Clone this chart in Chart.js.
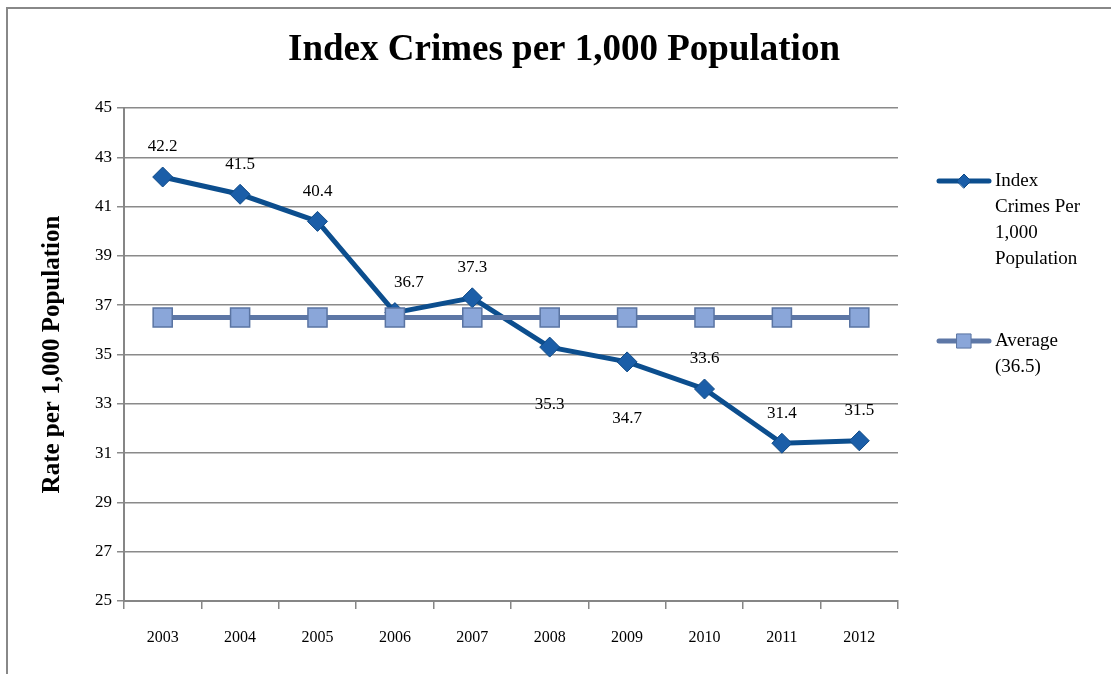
<!DOCTYPE html>
<html>
<head>
<meta charset="utf-8">
<script src="https://cdn.jsdelivr.net/npm/chart.js@4.4.1/dist/chart.umd.min.js"></script>
<style>
  html, body { margin: 0; padding: 0; background: #fff; overflow: hidden; }
  #wrap { position: relative; width: 1111px; height: 674px; }
  #frame { position: absolute; left: 6px; top: 7px; width: 1200px; height: 800px;
           border-top: 2px solid #888; border-left: 2px solid #888; }
  canvas { position: absolute; left: 0; top: 0; }
</style>
</head>
<body>
<div id="wrap">
  <div id="frame"></div>
  <canvas id="crimeChart" width="1111" height="674"></canvas>
</div>
<script>
// data
const years = ['2003', '2004', '2005', '2006', '2007', '2008', '2009', '2010', '2011', '2012'];
const crimeRates = [42.2, 41.5, 40.4, 36.7, 37.3, 35.3, 34.7, 33.6, 31.4, 31.5];
const averageRate = [36.5, 36.5, 36.5, 36.5, 36.5, 36.5, 36.5, 36.5, 36.5, 36.5];
const labelSide = ['above', 'above', 'above', 'aboveRight', 'above', 'below', 'below', 'above', 'above', 'above'];
const chartTitle = 'Index Crimes per 1,000 Population';
const legendLines = [
  ['Index', 'Crimes Per', '1,000', 'Population'],
  ['Average', '(36.5)']
];

const SERIF = '"Liberation Serif", "DejaVu Serif", serif';

// title centred over the whole picture, not the plot
const bigTitle = {
  id: 'bigTitle',
  afterDraw(chart) {
    const ctx = chart.ctx;
    ctx.save();
    ctx.font = 'bold 37px ' + SERIF;
    ctx.fillStyle = '#000';
    ctx.textAlign = 'center';
    ctx.textBaseline = 'middle';
    ctx.fillText(chartTitle, 564, 50);
    ctx.restore();
  }
};

// value labels over the crime series
const valueLabels = {
  id: 'valueLabels',
  afterDatasetsDraw(chart) {
    const ctx = chart.ctx;
    const meta = chart.getDatasetMeta(0);
    ctx.save();
    ctx.font = '17px ' + SERIF;
    ctx.fillStyle = '#000';
    ctx.textAlign = 'center';
    ctx.textBaseline = 'middle';
    meta.data.forEach((pt, i) => {
      let x = pt.x, y = pt.y - 30;
      if (labelSide[i] === 'below') y = pt.y + 57;
      if (labelSide[i] === 'aboveRight') x = pt.x + 14;
      ctx.fillText(crimeRates[i].toFixed(1), x, y);
    });
    ctx.restore();
  }
};

// legend on the right with wrapped text
const sideLegend = {
  id: 'sideLegend',
  afterDraw(chart) {
    const ctx = chart.ctx;
    const tops = [181, 341];
    ctx.save();
    chart.data.datasets.forEach((ds, i) => {
      const y = tops[i];
      ctx.strokeStyle = ds.borderColor;
      ctx.lineWidth = ds.borderWidth;
      ctx.lineCap = 'round';
      ctx.beginPath();
      ctx.moveTo(939, y);
      ctx.lineTo(989, y);
      ctx.stroke();
      ctx.fillStyle = ds.pointBackgroundColor;
      ctx.strokeStyle = ds.pointBorderColor;
      ctx.lineWidth = 1;
      Chart.helpers.drawPoint(ctx, {
        pointStyle: ds.pointStyle,
        radius: i === 0 ? 7 : 10,
        borderWidth: 1
      }, 964, y);
      ctx.fillStyle = '#000';
      ctx.font = '19px ' + SERIF;
      ctx.textAlign = 'left';
      ctx.textBaseline = 'middle';
      legendLines[i].forEach((t, k) => ctx.fillText(t, 995, y + k * 26));
    });
    ctx.restore();
  }
};

new Chart(document.getElementById('crimeChart'), {
  type: 'line',
  data: {
    labels: years,
    datasets: [
      {
        label: 'Index Crimes Per 1,000 Population',
        data: crimeRates,
        borderColor: '#0c4e8e',
        borderWidth: 5,
        pointStyle: 'rectRot',
        pointRadius: 10,
        pointBackgroundColor: '#1b5ea8',
        pointBorderColor: '#0f4a86',
        pointBorderWidth: 1,
        order: 2
      },
      {
        label: 'Average (36.5)',
        data: averageRate,
        borderColor: '#5d77a6',
        borderWidth: 5,
        pointStyle: 'rect',
        pointRadius: 13.5,
        pointBackgroundColor: '#8aa6d9',
        pointBorderColor: '#5a74a2',
        pointBorderWidth: 1.5,
        order: 1
      }
    ]
  },
  options: {
    responsive: false,
    animation: false,
    layout: { padding: { left: 0, right: 213, top: 108, bottom: 0 } },
    plugins: {
      legend: { display: false },
      tooltip: { enabled: false },
      title: { display: false }
    },
    scales: {
      x: {
        offset: true,
        afterFit(scale) { scale.height = 73; },
        grid: { offset: true, drawOnChartArea: false, drawTicks: true, tickLength: 8, color: '#868686', lineWidth: 1.5 },
        border: { display: true, color: '#868686', width: 2 },
        ticks: { color: '#000', padding: 19, font: { family: SERIF, size: 16 } }
      },
      y: {
        min: 25,
        max: 45,
        afterFit(scale) { scale.width = 124; },
        ticks: { stepSize: 2, color: '#000', padding: 5, font: { family: SERIF, size: 17 } },
        grid: { color: '#8a8a8a', lineWidth: 1.5, tickLength: 7 },
        border: { display: true, color: '#868686', width: 2 },
        title: {
          display: true,
          text: 'Rate per 1,000 Population',
          color: '#000',
          font: { family: SERIF, size: 25, weight: 'bold' },
          padding: { top: 38, bottom: 0 }
        }
      }
    }
  },
  plugins: [valueLabels, sideLegend, bigTitle]
});
</script>
</body>
</html>
